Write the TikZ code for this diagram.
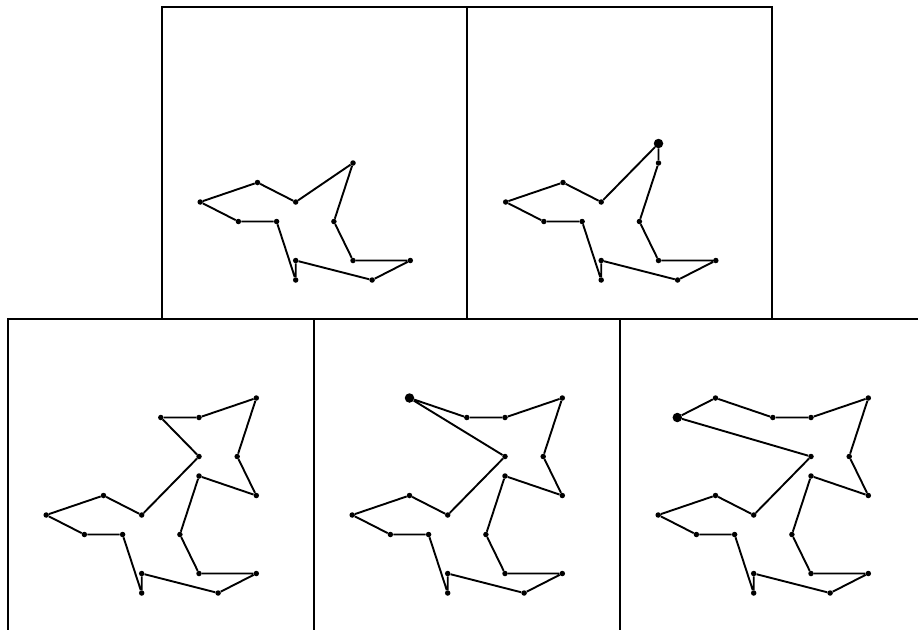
\documentclass[tikz,border=0pt]{standalone}
\tikzset{
  dot/.style={circle,fill=black,inner sep=0pt,minimum size=5.5pt},
  bigdot/.style={circle,fill=black,inner sep=0pt,minimum size=9.5pt},
  polyedge/.style={line width=1.9pt,line join=round},
  frame/.style={line width=1.3pt},
  grid panel/.style={x=19.1pt,y=-19.5pt}
}
\newcommand\basepts[1]{%
  \node[dot] (#1A) at (2,10) {};
  \node[dot] (#1B) at (5,9) {};
  \node[dot] (#1C) at (7,10) {};
  \node[dot] (#1D) at (10,8) {};
  \node[dot] (#1E) at (9,11) {};
  \node[dot] (#1F) at (10,13) {};
  \node[dot] (#1G) at (13,13) {};
  \node[dot] (#1H) at (11,14) {};
  \node[dot] (#1I) at (7,13) {};
  \node[dot] (#1J) at (7,14) {};
  \node[dot] (#1K) at (6,11) {};
  \node[dot] (#1L) at (4,11) {};
}
\newcommand\armpts[1]{%
  \node[dot] (#1P) at (10,7) {};
  \node[dot] (#1Q) at (8,5) {};
  \node[dot] (#1R) at (10,5) {};
  \node[dot] (#1S) at (13,4) {};
  \node[dot] (#1T) at (12,7) {};
  \node[dot] (#1U) at (13,9) {};
}
\newcommand\tailpath[1]{(#1D) -- (#1E) -- (#1F) -- (#1G) -- (#1H) -- (#1I) -- (#1J) -- (#1K) -- (#1L) -- (#1A)}
\begin{document}
\begin{tikzpicture}[x=1pt,y=-1pt]
\useasboundingbox (0,0) rectangle (918,629);
\clip (0,0) rectangle (918,629);
\fill[white] (0,0) rectangle (918,629);

% frames
\draw[frame] (162,7) rectangle (772,319);
\draw[frame] (467,7) -- (467,319);
\draw[frame] (8,640) -- (8,319) -- (930,319);
\draw[frame] (314,319) -- (314,640);
\draw[frame] (620,319) -- (620,640);

% panel 1
\begin{scope}[shift={(162,7)},grid panel]
  \basepts{a}
  \draw[polyedge] (aA) -- (aB) -- (aC) -- \tailpath{a};
\end{scope}

% panel 2
\begin{scope}[shift={(467.5,7)},grid panel]
  \basepts{b}
  \node[bigdot] (bP) at (10,7) {};
  \draw[polyedge] (bA) -- (bB) -- (bC) -- (bP) -- \tailpath{b};
\end{scope}

% panel 3
\begin{scope}[shift={(8,320)},grid panel]
  \basepts{c}
  \armpts{c}
  \draw[polyedge] (cA) -- (cB) -- (cC) -- (cP) -- (cQ) -- (cR) -- (cS) -- (cT) -- (cU) -- \tailpath{c};
\end{scope}

% panel 4
\begin{scope}[shift={(314,320)},grid panel]
  \basepts{d}
  \armpts{d}
  \node[bigdot] (dV) at (5,4) {};
  \draw[polyedge] (dA) -- (dB) -- (dC) -- (dP) -- (dV) -- (dQ) -- (dR) -- (dS) -- (dT) -- (dU) -- \tailpath{d};
\end{scope}

% panel 5
\begin{scope}[shift={(620,320)},grid panel]
  \basepts{e}
  \armpts{e}
  \node[dot] (eV) at (5,4) {};
  \node[bigdot] (eW) at (3,5) {};
  \draw[polyedge] (eA) -- (eB) -- (eC) -- (eP) -- (eW) -- (eV) -- (eQ) -- (eR) -- (eS) -- (eT) -- (eU) -- \tailpath{e};
\end{scope}
\end{tikzpicture}
\end{document}
